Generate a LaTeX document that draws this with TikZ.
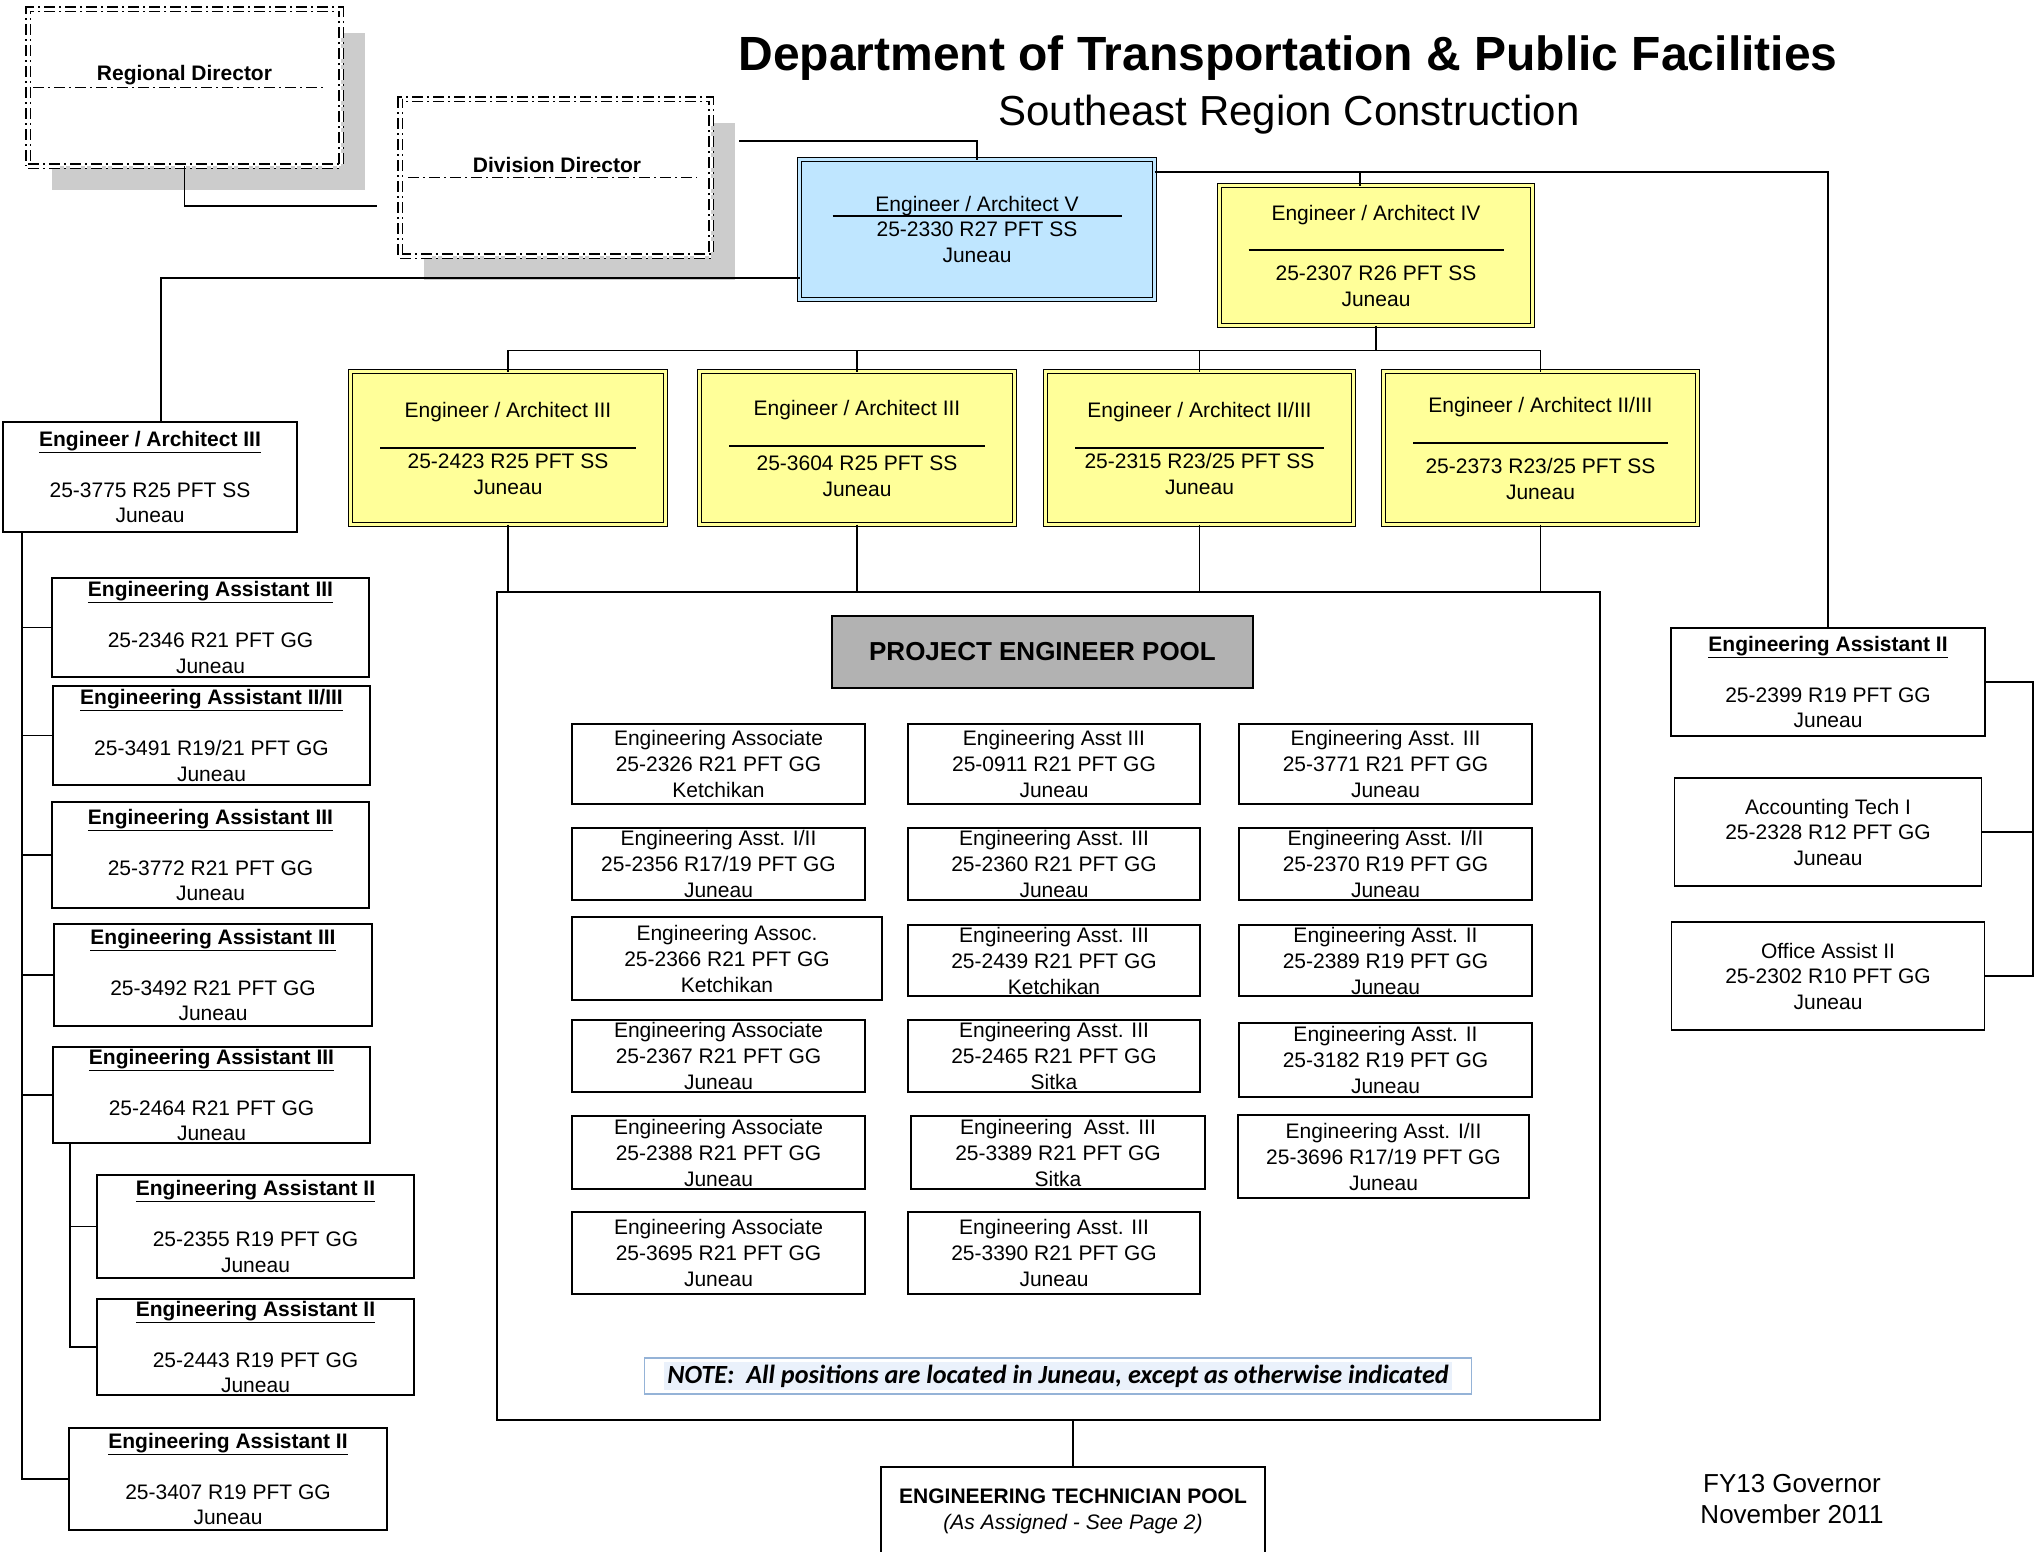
\documentclass[tikz,border=0pt]{standalone}
\usepackage{fontspec}
\setmainfont{Liberation Sans}
\newfontfamily\notefont{Carlito}
\usetikzlibrary{positioning,shadows}

\definecolor{eayellow}{HTML}{FFFF99}
\definecolor{eablue}{HTML}{BFE6FF}
\definecolor{poolgray}{HTML}{B2B2B2}
\definecolor{shadowgray}{HTML}{CCCCCC}
\definecolor{noteline}{HTML}{95B3D7}
\definecolor{notefill}{HTML}{EAF1FB}

\newcommand{\posttitle}[1]{\underline{\textbf{#1}}}

\begin{document}
\begin{tikzpicture}[x=1pt,y=-1pt,line width=1.8pt,
	box/.style={draw=black,fill=white,minimum width=317pt,inner sep=0pt,outer sep=0pt,align=center,font=\fontsize{21}{25.5}\selectfont},
	poolbox/.style={box,minimum width=293pt,font=\fontsize{21}{26}\selectfont},
	dblbox/.style={box,fill=eayellow,double=eayellow,double distance=3.4pt,line width=1.2pt,font=\fontsize{21}{26}\selectfont},
	dirbox/.style={draw=black,fill=white,double=white,double distance=3pt,line width=1.1pt,dash pattern=on 11pt off 4pt on 2pt off 4pt,minimum width=311pt,minimum height=157pt,outer sep=0pt,drop shadow={shadow xshift=24pt,shadow yshift=-24pt,fill=shadowgray,opacity=1}},
	dirline/.style={line width=1.1pt,dash pattern=on 11pt off 4pt on 2pt off 4pt},
	dirname/.style={font=\fontsize{21}{25}\selectfont\bfseries},
	link/.style={draw=black,line width=1.6pt}]
	\useasboundingbox (0,0) rectangle (2039,1551);
	\clip (0,0) rectangle (2039,1551);
	\fill[white] (0,0) rectangle (2039,1551);

	% title
	\node[font=\fontsize{48}{56}\selectfont\bfseries] (title) at (1288,58) {Department of Transportation \& Public Facilities};
	\node[font=\fontsize{42}{50}\selectfont] (subtitle) at (1289,115) {Southeast Region Construction};

	% directors
	\node[dirbox,minimum width=313pt] (rd) at (184.5,87.5) {};
	\node[dirname] (rdname) at (184.5,75) {Regional Director};
	\draw[dirline] ([xshift=5pt]rd.west) -- ([xshift=-18pt]rd.east);
	\node[dirbox] (dd) at (555.5,177.5) {};
	\node[dirname] (ddname) at (557,165) {Division Director};
	\draw[dirline] ([xshift=8pt]dd.west) -- ([xshift=-14pt]dd.east);

	% engineer / architect V and IV
	\node[dblbox,fill=eablue,double=eablue,minimum width=355pt,minimum height=140pt] (eav) at (977,229.5)
		{Engineer / Architect V\\[-20.5pt]\rule{289pt}{1.8pt}\\[-6.5pt]25-2330 R27 PFT SS\\Juneau};
	\node[dblbox,minimum width=313pt,minimum height=140pt] (eaiv) at (1376,255.5)
		{Engineer / Architect IV\\[4.5pt]\rule{255pt}{1.8pt}\\[3.5pt]25-2307 R26 PFT SS\\Juneau};

	% engineer / architect II/III row
	\node[dblbox,minimum width=315pt,minimum height=153pt] (ea2423) at (508,448)
		{Engineer / Architect III\\[5.5pt]\rule{256pt}{1.8pt}\\[-6.5pt]25-2423 R25 PFT SS\\Juneau};
	\node[dblbox,minimum width=315pt,minimum height=153pt] (ea3604) at (857,448)
		{Engineer / Architect III\\[5.5pt]\rule{256pt}{1.8pt}\\[-2.5pt]25-3604 R25 PFT SS\\Juneau};
	\node[dblbox,minimum width=308pt,minimum height=153pt] (ea2315) at (1199.5,448)
		{Engineer / Architect II/III\\[5.5pt]\rule{249pt}{1.8pt}\\[-6.5pt]25-2315 R23/25 PFT SS\\Juneau};
	\node[dblbox,minimum width=314pt,minimum height=153pt] (ea2373) at (1540.5,448)
		{Engineer / Architect II/III\\[5.5pt]\rule{255pt}{1.8pt}\\[3.5pt]25-2373 R23/25 PFT SS\\Juneau};

	% project engineer pool
	\node[box,minimum width=1103pt,minimum height=828pt,line width=2pt] (pool) at (1048.5,1006) {};
	\node[box,fill=poolgray,minimum width=421pt,minimum height=72pt,font=\fontsize{26}{30}\selectfont\bfseries] (pep) at (1042.5,652) {PROJECT ENGINEER POOL};

	\node[poolbox,minimum height=80pt] (p2326) at (718.5,764) {Engineering Associate\\25-2326 R21 PFT GG\\Ketchikan};
	\node[poolbox,minimum height=72pt] (p2356) at (718.5,864) {Engineering Asst. I/II\\25-2356 R17/19 PFT GG\\Juneau};
	\node[poolbox,minimum width=310pt,minimum height=83pt] (p2366) at (727,958.5) {Engineering Assoc.\\25-2366 R21 PFT GG\\Ketchikan};
	\node[poolbox,minimum height=72pt] (p2367) at (718.5,1056) {Engineering Associate\\25-2367 R21 PFT GG\\Juneau};
	\node[poolbox,minimum height=73pt] (p2388) at (718.5,1152.5) {Engineering Associate\\25-2388 R21 PFT GG\\Juneau};
	\node[poolbox,minimum height=82pt] (p3695) at (718.5,1253) {Engineering Associate\\25-3695 R21 PFT GG\\Juneau};

	\node[poolbox,minimum width=292pt,minimum height=80pt] (p0911) at (1054,764) {Engineering Asst III\\25-0911 R21 PFT GG\\Juneau};
	\node[poolbox,minimum width=292pt,minimum height=72pt] (p2360) at (1054,864) {Engineering Asst. III\\25-2360 R21 PFT GG\\Juneau};
	\node[poolbox,minimum width=292pt,minimum height=71pt] (p2439) at (1054,960.5) {Engineering Asst. III\\25-2439 R21 PFT GG\\Ketchikan};
	\node[poolbox,minimum width=292pt,minimum height=72pt] (p2465) at (1054,1056) {Engineering Asst. III\\25-2465 R21 PFT GG\\Sitka};
	\node[poolbox,minimum width=294pt,minimum height=73pt] (p3389) at (1058,1152.5) {Engineering\ \ Asst. III\\25-3389 R21 PFT GG\\Sitka};
	\node[poolbox,minimum width=292pt,minimum height=82pt] (p3390) at (1054,1253) {Engineering Asst. III\\25-3390 R21 PFT GG\\Juneau};

	\node[poolbox,minimum height=80pt] (p3771) at (1385.5,764) {Engineering Asst. III\\25-3771 R21 PFT GG\\Juneau};
	\node[poolbox,minimum height=72pt] (p2370) at (1385.5,864) {Engineering Asst. I/II\\25-2370 R19 PFT GG\\Juneau};
	\node[poolbox,minimum height=71pt] (p2389) at (1385.5,960.5) {Engineering Asst. II\\25-2389 R19 PFT GG\\Juneau};
	\node[poolbox,minimum height=74pt] (p3182) at (1385.5,1060) {Engineering Asst. II\\25-3182 R19 PFT GG\\Juneau};
	\node[poolbox,minimum width=291pt,minimum height=83pt] (p3696) at (1383.5,1156.5) {Engineering Asst. I/II\\25-3696 R17/19 PFT GG\\Juneau};

	\node[draw=noteline,line width=1.8pt,fill=white,minimum width=827pt,minimum height=36pt,inner sep=0pt] (note) at (1058,1376)
		{\colorbox{notefill}{\notefont\fontsize{26.2}{30}\selectfont\bfseries\itshape NOTE:\ \ All positions are located in Juneau, except as otherwise indicated}};

	% engineering technician pool
	\node[box,anchor=north,minimum width=384pt,inner ysep=22pt] (techpool) at (1073,1467)
		{\textbf{ENGINEERING TECHNICIAN POOL}\\\textit{(As Assigned - See Page 2)}\\[40pt]~};

	% left column
	\node[box,minimum width=294pt,minimum height=110pt] (ea3775) at (150,477) {\posttitle{Engineer / Architect III}\\[25.5pt]25-3775 R25 PFT SS\\Juneau};
	\node[box,minimum height=99pt] (ea2346) at (210.5,627.5) {\posttitle{Engineering Assistant III}\\[25.5pt]25-2346 R21 PFT GG\\Juneau};
	\node[box,minimum height=99pt] (ea3491) at (211.5,735.5) {\posttitle{Engineering Assistant II/III}\\[25.5pt]25-3491 R19/21 PFT GG\\Juneau};
	\node[box,minimum height=106pt] (ea3772) at (210.5,855) {\posttitle{Engineering Assistant III}\\[25.5pt]25-3772 R21 PFT GG\\Juneau};
	\node[box,minimum width=318pt,minimum height=102pt] (ea3492) at (213,975) {\posttitle{Engineering Assistant III}\\[25.5pt]25-3492 R21 PFT GG\\Juneau};
	\node[box,minimum height=96pt] (ea2464) at (211.5,1095) {\posttitle{Engineering Assistant III}\\[25.5pt]25-2464 R21 PFT GG\\Juneau};
	\node[box,minimum height=103pt] (ea2355) at (255.5,1226.5) {\posttitle{Engineering Assistant II}\\[25.5pt]25-2355 R19 PFT GG\\Juneau};
	\node[box,minimum height=96pt] (ea2443) at (255.5,1347) {\posttitle{Engineering Assistant II}\\[25.5pt]25-2443 R19 PFT GG\\Juneau};
	\node[box,minimum width=318pt,minimum height=102pt] (ea3407) at (228,1479) {\posttitle{Engineering Assistant II}\\[25.5pt]25-3407 R19 PFT GG\\Juneau};

	% right column
	\node[box,minimum width=314pt,minimum height=108pt] (ea2399) at (1828,682) {\posttitle{Engineering Assistant II}\\[25.5pt]25-2399 R19 PFT GG\\Juneau};
	\node[box,minimum width=307pt,minimum height=108pt,below=42pt of ea2399] (at2328) {Accounting Tech I\\25-2328 R12 PFT GG\\Juneau};
	\node[box,minimum width=313pt,minimum height=108pt,below=36pt of at2328] (oa2302) {Office Assist II\\25-2302 R10 PFT GG\\Juneau};

	\node[align=center,font=\fontsize{26}{31}\selectfont] (fy) at (1792,1499) {FY13 Governor\\November 2011};

	% links
	\coordinate (rdlink) at (377,206);
	\draw[link] (rd.south) |- (rdlink);
	\coordinate (ddlink) at (739,141);
	\draw[link] (ddlink) -| (eav.north);
	\coordinate (vleft) at ([yshift=-48.5pt]eav.west);
	\draw[link] (vleft) -| ([xshift=11pt]ea3775.north);
	\coordinate (vright) at ([yshift=57.5pt]eav.east);
	\draw[link,line width=1.4pt] (vright) -| (ea2399.north);
	\draw[link] ([xshift=-16pt]eaiv.north) -- ([xshift=-16pt]eaiv.north |- vright);

	\coordinate (ybus) at ([yshift=21pt]ea2423.north);
	\draw[link] (eaiv.south) -- (eaiv.south |- ybus);
	\draw[link] (ea2423.north) -- (ybus) -| (ea2373.north);
	\draw[link] (ea3604.north) -- (ea3604.north |- ybus);
	\draw[link] (ea2315.north) -- (ea2315.north |- ybus);
	\foreach \n in {ea2423,ea3604,ea2315,ea2373}
		\draw[link] (\n.south) -- (\n.south |- pool.north);
	\draw[link] (pool.south -| techpool.north) -- (techpool.north);

	\coordinate (ltrunk) at ([xshift=19pt]ea3775.south west);
	\foreach \n in {ea2346,ea3491,ea3772,ea3492,ea2464,ea3407}
		\draw[link] (ltrunk) |- (\n.west);
	\coordinate (subtrunk) at ([xshift=17pt]ea2464.south west);
	\foreach \n in {ea2355,ea2443}
		\draw[link] (subtrunk) |- (\n.west);

	\coordinate (rbus) at ([xshift=48pt]ea2399.east);
	\draw[link] (ea2399.east) -- (rbus) |- (oa2302.east);
	\draw[link] (at2328.east) -- (at2328.east -| rbus);
\end{tikzpicture}
\end{document}
